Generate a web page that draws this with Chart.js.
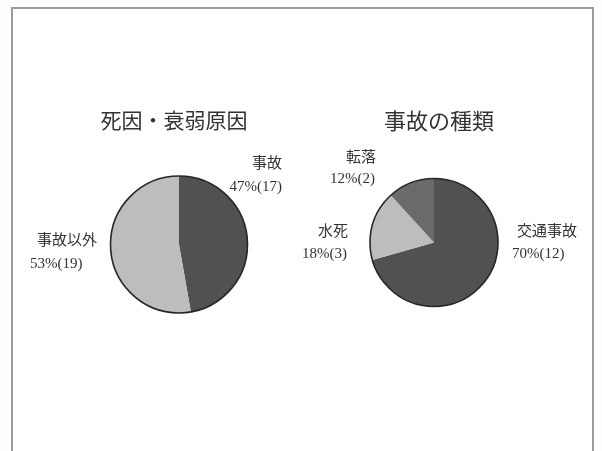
<!DOCTYPE html>
<html>
<head>
<meta charset="utf-8">
<script src="https://cdn.jsdelivr.net/npm/chart.js@4"></script>
<style>
  html, body { margin: 0; padding: 0; background: #fdfdfd; }
  #wrap { position: relative; width: 602px; height: 451px; overflow: hidden; }
  #frame { position: absolute; left: 11px; top: 7px; width: 583px; height: 470px;
           border: 2px solid #9c9c9c; border-bottom: none; box-sizing: border-box; background: #ffffff; }
  canvas { position: absolute; left: 0; top: 0; }
</style>
</head>
<body>
<div id="wrap">
  <div id="frame"></div>
  <canvas id="c1" width="602" height="451"></canvas>
  <canvas id="c2" width="602" height="451"></canvas>
</div>
<script>
// ---- data ----
const causeTitle = '死因・衰弱原因';
const causeLabels = ['事故', '事故以外'];
const causeCounts = [17, 19];
const causePct = [47, 53];

const accidentTitle = '事故の種類';
const accidentLabels = ['交通事故', '水死', '転落'];
const accidentCounts = [12, 3, 2];
const accidentPct = [70, 18, 12];

// ---- styles ----
const FONT = "'Liberation Serif', 'Noto Sans CJK JP', serif";
const TEXT_COLOR = '#333333';
const DARK = '#515151';
const MID = '#6a6a6a';
const LIGHT = '#bdbdbd';

function makeTextPlugin(title, titlePlace, labels, pct, counts, places) {
  return {
    id: 'placedText',
    afterDraw(chart) {
      const arc = chart.getDatasetMeta(0).data[0];
      const { x, y, outerRadius } = arc.getProps(['x', 'y', 'outerRadius'], true);
      const ctx = chart.ctx;
      ctx.save();
      // outline of the pie
      ctx.beginPath();
      ctx.arc(x, y, outerRadius, 0, Math.PI * 2);
      ctx.lineWidth = 1.6;
      ctx.strokeStyle = '#262626';
      ctx.stroke();
      ctx.fillStyle = TEXT_COLOR;
      ctx.textBaseline = 'middle';
      // title
      ctx.font = titlePlace.size + 'px ' + FONT;
      ctx.textAlign = 'center';
      ctx.fillText(title, x + titlePlace.dx, y + titlePlace.dy);
      // labels
      labels.forEach((name, i) => {
        const p = places[i];
        ctx.font = '15px ' + FONT;
        ctx.textAlign = p.name.align;
        ctx.fillText(name, x + p.name.dx, y + p.name.dy);
        ctx.textAlign = p.value.align;
        ctx.fillText(pct[i] + '%(' + counts[i] + ')', x + p.value.dx, y + p.value.dy);
      });
      ctx.restore();
    }
  };
}

const baseOptions = (radius, padding) => ({
  responsive: false,
  animation: false,
  events: [],
  radius: radius,
  layout: { padding: padding },
  plugins: { legend: { display: false }, tooltip: { enabled: false } }
});

new Chart(document.getElementById('c1'), {
  type: 'pie',
  data: {
    labels: causeLabels,
    datasets: [{ data: causeCounts, backgroundColor: [DARK, LIGHT], borderWidth: 0 }]
  },
  options: baseOptions(68.5, { left: 0, right: 244, top: 38, bottom: 0 }),
  plugins: [makeTextPlugin(causeTitle, { dx: -5, dy: -122.5, size: 21 },
    causeLabels, causePct, causeCounts, [
      { name: { dx: 103, dy: -80, align: 'right' }, value: { dx: 103, dy: -57.5, align: 'right' } },
      { name: { dx: -142, dy: -3, align: 'left' }, value: { dx: -149, dy: 20, align: 'left' } }
    ])]
});

new Chart(document.getElementById('c2'), {
  type: 'pie',
  data: {
    labels: accidentLabels,
    datasets: [{ data: accidentCounts, backgroundColor: [DARK, LIGHT, MID], borderWidth: 0 }]
  },
  options: baseOptions(64, { left: 266, right: 0, top: 34, bottom: 0 }),
  plugins: [makeTextPlugin(accidentTitle, { dx: 5, dy: -119.5, size: 22 },
    accidentLabels, accidentPct, accidentCounts, [
      { name: { dx: 83, dy: -10.5, align: 'left' }, value: { dx: 78, dy: 12, align: 'left' } },
      { name: { dx: -86, dy: -10.5, align: 'right' }, value: { dx: -87, dy: 12, align: 'right' } },
      { name: { dx: -58, dy: -84.5, align: 'right' }, value: { dx: -59, dy: -63, align: 'right' } }
    ])]
});
</script>
</body>
</html>
